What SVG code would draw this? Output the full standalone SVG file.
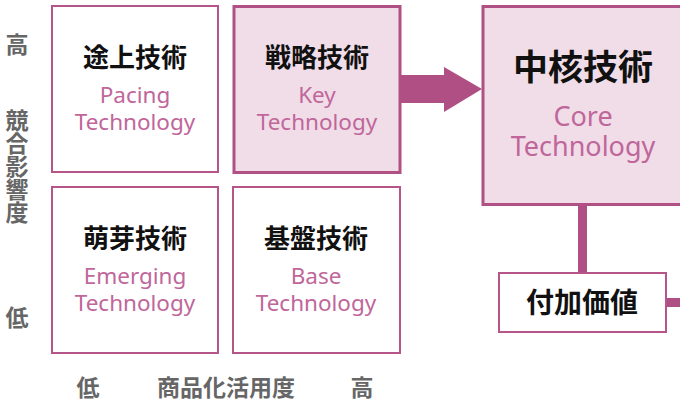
<svg xmlns="http://www.w3.org/2000/svg" width="680" height="405" viewBox="0 0 680 405">
<style>
.box{fill:#ffffff;stroke:#b65589;stroke-width:2}
.hl{fill:#f0dde8;stroke:#b05084;stroke-width:3}
.jp{font-family:"Noto Sans CJK JP","Noto Sans",sans-serif;font-weight:700;fill:#111;text-anchor:middle}
.en{font-family:"Noto Sans","Open Sans",sans-serif;font-weight:400;fill:#c0669a;text-anchor:middle}
.ax{font-family:"Noto Sans CJK JP",sans-serif;font-weight:700;fill:#666;font-size:23px;text-anchor:middle}
.conn{fill:#b04f84;stroke:none}
</style>
<rect width="680" height="405" fill="#ffffff"/>
<g id="connectors">
<polygon class="conn" points="400,75 444,75 444,67 482,89 444,112 444,103 400,103"/>
<rect class="conn" x="578" y="204" width="9" height="69"/>
<rect class="conn" x="666" y="298" width="16" height="9"/>
</g>
<g id="pacing">
<rect class="box" x="52" y="6" width="166" height="166"/>
<text class="jp" x="135" y="67" font-size="26">途上技術</text>
<text class="en" x="135" y="103" font-size="22.5">Pacing</text>
<text class="en" x="135" y="130" font-size="22.5">Technology</text>
</g>
<g id="key">
<rect class="hl" x="234" y="6.5" width="166" height="166"/>
<text class="jp" x="317" y="67" font-size="26">戦略技術</text>
<text class="en" x="317" y="103" font-size="22.5">Key</text>
<text class="en" x="317" y="130" font-size="22.5">Technology</text>
</g>
<g id="emerging">
<rect class="box" x="52" y="187" width="166" height="166"/>
<text class="jp" x="135" y="248" font-size="26">萌芽技術</text>
<text class="en" x="135" y="284" font-size="22.5">Emerging</text>
<text class="en" x="135" y="311" font-size="22.5">Technology</text>
</g>
<g id="base">
<rect class="box" x="233" y="187" width="167" height="166"/>
<text class="jp" x="316" y="248" font-size="26">基盤技術</text>
<text class="en" x="316" y="284" font-size="22.5">Base</text>
<text class="en" x="316" y="311" font-size="22.5">Technology</text>
</g>
<g id="core">
<rect class="hl" x="483" y="6.5" width="210" height="198"/>
<text class="jp" x="583" y="80" font-size="35">中核技術</text>
<text class="en" x="583" y="126" font-size="27">Core</text>
<text class="en" x="583" y="156" font-size="27">Technology</text>
</g>
<g id="value">
<rect class="box" x="499" y="273" width="167" height="59" stroke-width="2.5"/>
<text class="jp" x="582" y="313" font-size="28">付加価値</text>
</g>
<g id="axes">
<text class="ax" x="17" y="53">高</text>
<text class="ax" x="17" y="166" writing-mode="tb">競合影響度</text>
<text class="ax" x="17" y="326">低</text>
<text class="ax" x="88" y="396">低</text>
<text class="ax" x="226" y="396" font-size="25">商品化活用度</text>
<text class="ax" x="362" y="396">高</text>
</g>
</svg>
